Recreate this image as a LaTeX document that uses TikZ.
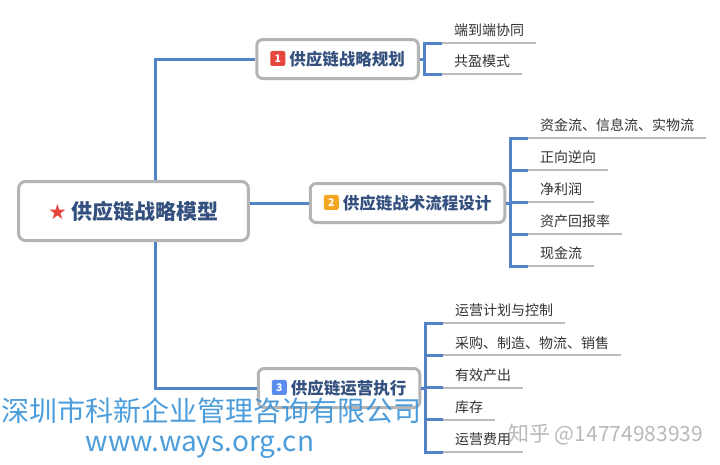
\documentclass[tikz,border=0pt]{standalone}
\usepackage{fontspec}
\setmainfont{Noto Sans CJK SC}
\newfontfamily\symfont{DejaVu Sans}
\usetikzlibrary{positioning}

\definecolor{linkblue}{HTML}{5283C6}
\definecolor{titleblue}{HTML}{34507E}
\definecolor{boxgray}{HTML}{B4B4B4}
\definecolor{rulegray}{HTML}{BBBBBB}
\definecolor{leafgray}{HTML}{333333}
\definecolor{badgered}{HTML}{E5473F}
\definecolor{badgeorange}{HTML}{F5A623}
\definecolor{badgeblue}{HTML}{5B8DEF}
\definecolor{markblue}{HTML}{3A93D8}

\newcommand{\numbadge}[2]{\tikz[baseline={([yshift=-3pt]badge.base)}]\node[fill=#1, text=white, rounded corners=2pt, minimum size=15pt, inner sep=0pt, font=\fontsize{10.5}{10.5}\selectfont] (badge) {#2};}

\begin{document}
\begin{tikzpicture}[
  x=1pt, y=-1pt,
  rootbox/.style={draw=boxgray, line width=3pt, rounded corners=7pt, fill=white, minimum height=59pt, inner xsep=29.5pt, text=titleblue, font=\fontsize{21}{21}\selectfont\bfseries},
  topicbox/.style={draw=boxgray, line width=3pt, rounded corners=6pt, fill=white, minimum height=39pt, inner xsep=13.5pt, text=titleblue, font=\fontsize{16.5}{16.5}\selectfont\bfseries},
  leaf/.style={anchor=south west, inner xsep=12pt, inner ysep=5pt, text height=11pt, text depth=2pt, text=leafgray, font=\fontsize{14}{14}\selectfont},
  branch/.style={draw=linkblue, line width=3pt},
  rule/.style={draw=rulegray, line width=2pt},
  watermark/.style={inner sep=0pt, text=markblue, opacity=0.9}
]
\fill[white] (0,0) rectangle (720,464);
\useasboundingbox (0,0) rectangle (720,464);

% main topics
\node[rootbox] (root) at (133.5,211) {\textcolor{badgered}{\symfont ★}\hspace{5pt}供应链战略模型};
\node[topicbox] (plan) at (337.5,59) {\numbadge{badgered}{1}\hspace{4pt}供应链战略规划};
\node[topicbox] (design) at (407.5,203) {\numbadge{badgeorange}{2}\hspace{4pt}供应链战术流程设计};
\node[topicbox] (exec) at (339,388) {\numbadge{badgeblue}{3}\hspace{4pt}供应链运营执行};

\coordinate (trunk) at (155,0);
\draw[branch] (root.north -| trunk) |- (plan.west);
\draw[branch] (root.south -| trunk) |- (exec.west);
\draw[branch] (design.west -| root.east) -- (design.west);

% leaves of topic 1
\node[leaf] (plan1) at (442,43) {端到端协同};
\node[leaf] (plan2) at (442,74) {共盈模式};
\coordinate (planfork) at (424,59);
\foreach \n in {plan1,plan2} {
  \draw[rule] (\n.south west) -- (\n.south east);
  \draw[branch] (planfork) |- (\n.south west);
}
\draw[branch] (plan.east) -- (planfork);

% leaves of topic 2
\foreach \txt [count=\i] in {资金流、信息流、实物流, 正向逆向, 净利润, 资产回报率, 现金流}
  \node[leaf] (design\i) at (528,138+32*\i-32) {\txt};
\coordinate (designfork) at (510,203);
\foreach \i in {1,...,5} {
  \draw[rule] (design\i.south west) -- (design\i.south east);
  \draw[branch] (designfork) |- (design\i.south west);
}
\draw[branch] (design.east) -- (designfork);

% leaves of topic 3
\foreach \txt [count=\i] in {运营计划与控制, 采购、制造、物流、销售, 有效产出, 库存, 运营费用}
  \node[leaf] (exec\i) at (443,323+32.25*\i-32.25) {\txt};
\coordinate (execfork) at (425,388);
\foreach \i in {1,...,5} {
  \draw[rule] (exec\i.south west) -- (exec\i.south east);
  \draw[branch] (execfork) |- (exec\i.south west);
}
\draw[branch] (exec.east) -- (execfork);

% watermarks
\node[watermark, anchor=west, font=\fontsize{28}{28}\selectfont] (markname) at (1,411) {深圳市科新企业管理咨询有限公司};
\node[watermark, font=\fontsize{28}{28}\selectfont] (markurl) at (200,447) {www.ways.org.cn};
\node[watermark, anchor=west, text=black!30, font=\fontsize{21}{21}\selectfont] (markzhihu) at (508,434) {知乎 @14774983939};
\end{tikzpicture}
\end{document}
